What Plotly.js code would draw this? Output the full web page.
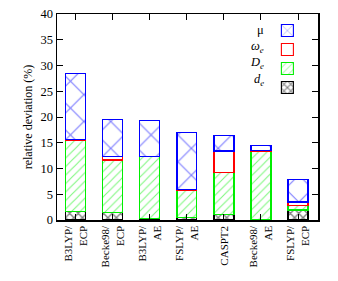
<!DOCTYPE html>
<html><head><meta charset="utf-8">
<script src="https://cdn.plot.ly/plotly-3.0.1.min.js"></script>
<style>html,body{margin:0;padding:0;background:#fff}#c{width:338px;height:281px}</style>
</head><body><div id="c"></div>
<script>
const categories = ["B3LYP/<br>ECP","Becke98/<br>ECP","B3LYP/<br>AE","FSLYP/<br>AE","CASPT2","Becke98/<br>AE","FSLYP/<br>ECP"];
const d_e   = [1.6, 1.5, 0.25, 0.5, 1.0, 0.0, 1.95];
const D_e   = [13.9, 10.15, 12.05, 5.2, 8.3, 13.35, 0.9];
const omega_e = [0.2, 0.75, 0.1, 0.15, 4.1, 0.2, 0.65];
const mu    = [12.7, 7.15, 7.0, 11.1, 3.0, 0.95, 4.45];
const yTicks = [0,5,10,15,20,25,30,35,40];
const legendLabels = ['μ','<i>ω<sub>e</sub></i>','<i>D<sub>e</sub></i>','<i>d<sub>e</sub></i>'];

const serif = "'Liberation Serif', 'Times New Roman', serif";
const xs = categories.map((c,i)=>i);
function tr(y, col, shape, size, sol){
  const m = {color:'white', line:{color:col, width:1.1}};
  if(shape) m.pattern = {shape:shape, fgcolor:col, bgcolor:'white', size:size, solidity:sol, fillmode:'overlay'};
  return {type:'bar', x:xs, y:y, name:' ', marker:m, width:0.54, showlegend:true, hoverinfo:'skip'};
}
const data = [
  tr(d_e, 'black', 'x', 6, 0.4),
  tr(D_e, '#00ee00', '/', 6, 0.18),
  tr(omega_e, 'red', '', 0, 0),
  tr(mu, 'blue', 'x', 19, 0.12)
];
const annotations = legendLabels.map((t,i)=>({
  xref:'paper', yref:'paper', x:0.8, y:(220-30-16.5*i)/206, xanchor:'right', yanchor:'middle',
  text:t, showarrow:false, font:{family:serif, size:12.5, color:'black'}
}));
const layout = {
  width:338, height:281,
  margin:{l:57, r:20, t:14, b:61},
  paper_bgcolor:'white', plot_bgcolor:'white',
  barmode:'stack',
  showlegend:true,
  legend:{x:0.99, xanchor:'right', y:0.99, yanchor:'top', traceorder:'reversed', bgcolor:'rgba(0,0,0,0)',
          font:{family:serif, size:11}, itemwidth:30, tracegroupgap:0},
  xaxis:{range:[-0.51,6.54], tickvals:xs, ticktext:categories, tickangle:-90,
         ticks:'inside', ticklen:6, tickcolor:'black', mirror:'ticks', showline:true, linecolor:'black', linewidth:1.5,
         showgrid:false, zeroline:false, tickfont:{family:serif, size:11, color:'black'}},
  yaxis:{range:[0,40], tickvals:yTicks, ticks:'inside', ticklen:6, tickcolor:'black', mirror:'ticks',
         showline:true, linecolor:'black', linewidth:1.5, showgrid:false, zeroline:false,
         tickfont:{family:serif, size:12.5, color:'black'},
         title:{text:'relative deviation (%)', font:{family:serif, size:12, color:'black'}, standoff:5}},
  annotations: annotations,
  font:{family:serif}
};
Plotly.newPlot('c', data, layout, {staticPlot:true, displayModeBar:false});
</script></body></html>
